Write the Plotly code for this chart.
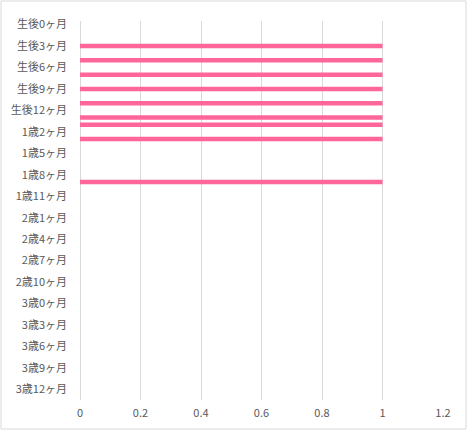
import plotly.graph_objects as go

# categories (monthly), values
categories = [
    "生後0ヶ月", "生後1ヶ月", "生後2ヶ月", "生後3ヶ月", "生後4ヶ月", "生後5ヶ月",
    "生後6ヶ月", "生後7ヶ月", "生後8ヶ月", "生後9ヶ月", "生後10ヶ月", "生後11ヶ月",
    "生後12ヶ月",
    "1歳0ヶ月", "1歳1ヶ月", "1歳2ヶ月", "1歳3ヶ月", "1歳4ヶ月", "1歳5ヶ月",
    "1歳6ヶ月", "1歳7ヶ月", "1歳8ヶ月", "1歳9ヶ月", "1歳10ヶ月", "1歳11ヶ月",
    "1歳12ヶ月",
    "2歳0ヶ月", "2歳1ヶ月", "2歳2ヶ月", "2歳3ヶ月", "2歳4ヶ月", "2歳5ヶ月",
    "2歳6ヶ月", "2歳7ヶ月", "2歳8ヶ月", "2歳9ヶ月", "2歳10ヶ月", "2歳11ヶ月",
    "2歳12ヶ月",
    "3歳0ヶ月", "3歳1ヶ月", "3歳2ヶ月", "3歳3ヶ月", "3歳4ヶ月", "3歳5ヶ月",
    "3歳6ヶ月", "3歳7ヶ月", "3歳8ヶ月", "3歳9ヶ月", "3歳10ヶ月", "3歳11ヶ月",
    "3歳12ヶ月",
    "4歳0ヶ月",
]
values = [
    0, 0, 0, 1, 0, 1, 0, 1, 0, 1, 0, 1, 0,
    1, 1, 0, 1, 0, 0, 0, 0, 0, 1, 0, 0, 0,
    0, 0, 0, 0, 0, 0, 0, 0, 0, 0, 0, 0, 0,
    0, 0, 0, 0, 0, 0, 0, 0, 0, 0, 0, 0, 0,
    0,
]
shown_labels = categories[::3]

W, H = 468, 431
ML, MR, MT, MB = 80, 25, 21, 31
pw, ph = W - ML - MR, H - MT - MB

fig = go.Figure()
fig.add_trace(go.Bar(x=values, y=categories, orientation="h",
                     marker=dict(color="#FF6699", line=dict(width=0))))

font = dict(family="Noto Sans CJK JP, Meiryo, sans-serif", size=11, color="#595959")
fig.update_layout(
    width=W, height=H,
    margin=dict(l=ML, r=MR, t=MT, b=MB),
    paper_bgcolor="white", plot_bgcolor="white",
    bargap=0.37, showlegend=False, font=font,
    xaxis=dict(range=[0, 1.2], dtick=0.2, showgrid=True, gridcolor="#D9D9D9",
               gridwidth=1, zeroline=True, zerolinecolor="#D9D9D9", zerolinewidth=1,
               showline=False, ticklabelstandoff=5, fixedrange=True),
    yaxis=dict(type="category", autorange="reversed", tickmode="array",
               tickvals=shown_labels, ticktext=shown_labels, showgrid=False,
               showline=False, ticklabelstandoff=12, fixedrange=True),
)

# chart area border (pixel box 1..466 x 1..429)
fig.add_shape(type="rect", xref="paper", yref="paper",
              x0=(1 - ML) / pw, x1=(466 - ML) / pw,
              y0=-(429 - (H - MB)) / ph, y1=1 + (MT - 1) / ph,
              line=dict(color="#D9D9D9", width=1), layer="below")

fig.write_html("out.html", config={"displayModeBar": False},
               post_script="document.body.style.margin='0';")
